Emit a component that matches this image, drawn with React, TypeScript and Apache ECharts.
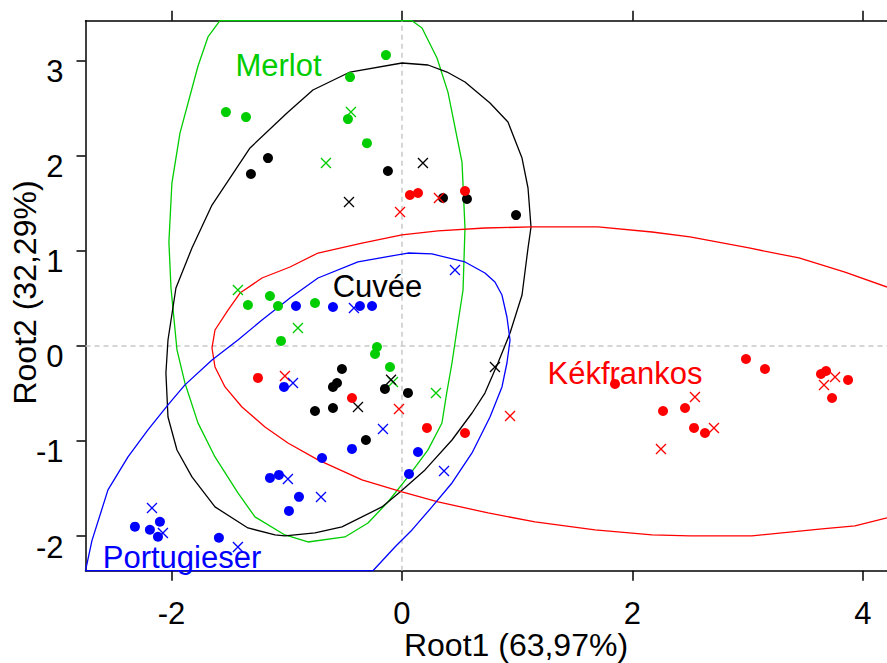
import React, { useEffect, useRef } from "react";
import * as echarts from "echarts";

// Axis ranges and ticks
const X_MIN = -2.747;
const X_MAX = 4.21;
const Y_MIN = -2.365;
const Y_MAX = 3.421;
const X_TICKS = [-2, 0, 2, 4];
const Y_TICKS = [-2, -1, 0, 1, 2, 3];

const X_TITLE = "Root1 (63,97%)";
const Y_TITLE = "Root2 (32,29%)";

// Group names
const GROUPS = ["Merlot", "Cuvée", "Kékfrankos", "Portugieser"];

// Merlot
const merlotDots = [
  [-1.528, 2.46], [-1.354, 2.407], [-0.451, 2.828], [-0.139, 3.059], [-0.469, 2.386],
  [-0.304, 2.133], [-1.337, 0.43], [-1.146, 0.525], [-1.076, 0.42], [-0.755, 0.451],
  [-1.05, 0.052], [-0.217, -0.012], [-0.234, -0.085], [-0.104, -0.222],
];
const merlotCrosses = [
  [-0.443, 2.461], [-0.66, 1.924], [-1.424, 0.588], [-0.903, 0.188], [-0.078, -0.38], [0.295, -0.496],
];
// Cuvée
const cuveeDots = [
  [-1.163, 1.976], [-1.311, 1.808], [-0.122, 1.84], [0.356, 1.556], [0.564, 1.545], [0.99, 1.376],
  [-0.521, -0.243], [-0.564, -0.39], [-0.599, -0.432], [-0.755, -0.685], [-0.599, -0.653],
  [-0.148, -0.453], [0.052, -0.495], [-0.313, -0.99],
];
const cuveeCrosses = [
  [0.182, 1.924], [-0.46, 1.513], [-0.095, -0.357], [-0.382, -0.642], [0.807, -0.222],
];
// Kékfrankos
const kekDots = [
  [0.069, 1.587], [0.139, 1.608], [0.547, 1.629], [-1.25, -0.337], [-0.434, -0.548],
  [0.217, -0.863], [0.547, -0.916], [1.849, -0.4], [2.266, -0.685], [2.457, -0.653],
  [2.535, -0.863], [2.63, -0.916], [2.986, -0.138], [3.151, -0.243], [3.637, -0.296],
  [3.681, -0.264], [3.872, -0.358], [3.733, -0.548],
];
const kekCrosses = [
  [-0.017, 1.409], [0.321, 1.556], [-1.016, -0.316], [-0.026, -0.664], [0.938, -0.737],
  [2.248, -1.085], [2.543, -0.537], [2.708, -0.863], [3.759, -0.327], [3.663, -0.411],
];
// Portugieser
const portDots = [
  [-0.92, 0.42], [-0.599, 0.409], [-0.365, 0.42], [-0.26, 0.42], [-1.024, -0.432],
  [-1.146, -1.389], [-1.068, -1.357], [-0.894, -1.588], [-0.981, -1.736], [-0.694, -1.179],
  [-0.434, -1.084], [0.139, -1.116], [0.061, -1.347], [-2.101, -1.85], [-2.318, -1.902],
  [-2.188, -1.934], [-2.118, -2.008], [-1.589, -2.018],
];
const portCrosses = [
  [-0.417, 0.399], [-0.946, -0.39], [-0.165, -0.874], [0.46, 0.798], [0.365, -1.316],
  [-0.99, -1.4], [-0.703, -1.589], [-2.17, -1.705], [-2.075, -1.968], [-1.424, -2.115],
];

// Confidence ellipse outlines (clipped to the frame)
const merlotEllipse = [
  [-1.58, 3.421], [-1.684, 3.25], [-1.771, 2.942], [-1.927, 2.239], [-1.997, 1.713],
  [-2.023, 1.093], [-2.005, 0.609], [-1.953, -0.041], [-1.884, -0.39], [-1.771, -0.81],
  [-1.623, -1.168], [-1.424, -1.547], [-1.276, -1.799], [-1.016, -1.989], [-0.816, -2.063],
  [-0.495, -2.01], [-0.295, -1.863], [-0.122, -1.642], [0.052, -1.378], [0.226, -1.094],
  [0.347, -0.811], [0.388, -0.497], [0.434, -0.18], [0.486, 0.241], [0.53, 0.588],
  [0.547, 1.24], [0.521, 1.934], [0.399, 2.67], [0.304, 3.028], [0.174, 3.344],
  [0.087, 3.421], [-1.58, 3.421],
];
const cuveeEllipse = [
  [0, 2.976], [0.226, 2.955], [0.391, 2.881], [0.547, 2.776], [0.764, 2.555], [0.92, 2.355],
  [1.042, 1.976], [1.094, 1.661], [1.12, 1.25], [1.094, 1.029], [1.042, 0.535], [0.938, 0.135],
  [0.833, -0.18], [0.72, -0.496], [0.608, -0.706], [0.434, -0.99], [0.2, -1.305],
  [-0.017, -1.536], [-0.174, -1.694], [-0.521, -1.904], [-0.755, -1.967], [-1.016, -1.999],
  [-1.102, -1.988], [-1.337, -1.915], [-1.623, -1.694], [-1.823, -1.378], [-1.953, -1.095],
  [-2.031, -0.748], [-2.049, -0.285], [-2.031, 0.062], [-1.962, 0.609], [-1.823, 1.03],
  [-1.649, 1.482], [-1.319, 2.082], [-0.998, 2.45], [-0.773, 2.692], [-0.451, 2.881], [0, 2.976],
];
const kekEllipse = [
  [4.21, 0.619], [3.845, 0.777], [3.446, 0.925], [3.012, 1.03], [2.5, 1.146], [2.17, 1.198],
  [1.701, 1.251], [1.128, 1.251], [0.72, 1.24], [0.313, 1.209], [0, 1.167], [-0.347, 1.082],
  [-0.729, 0.977], [-0.972, 0.83], [-1.215, 0.714], [-1.406, 0.556], [-1.51, 0.377],
  [-1.623, 0.167], [-1.649, -0.022], [-1.623, -0.222], [-1.536, -0.432], [-1.389, -0.643],
  [-1.189, -0.853], [-0.99, -1.021], [-0.729, -1.199], [-0.347, -1.409], [0, -1.536],
  [0.313, -1.641], [0.747, -1.757], [1.155, -1.852], [1.675, -1.936], [2.17, -1.988],
  [2.5, -1.999], [3.038, -1.999], [3.646, -1.926], [3.932, -1.894], [4.21, -1.81],
];
const portEllipse = [
  [-2.747, -2.365], [-2.691, -2.049], [-2.552, -1.515], [-2.378, -1.168], [-2.205, -0.884],
  [-2.031, -0.621], [-1.884, -0.41], [-1.649, -0.148], [-1.424, 0.062], [-1.215, 0.272],
  [-0.972, 0.504], [-0.729, 0.714], [-0.382, 0.883], [0.052, 0.977], [0.26, 0.967],
  [0.547, 0.883], [0.72, 0.767], [0.807, 0.672], [0.868, 0.535], [0.911, 0.304],
  [0.938, 0.062], [0.911, -0.18], [0.868, -0.432], [0.764, -0.748], [0.608, -1.126],
  [0.434, -1.442], [0.26, -1.694], [0.087, -1.936], [-0.061, -2.115], [-0.252, -2.365],
  [-2.747, -2.365],
];

const GREEN = "#00CD00";
const BLACK = "#000000";
const RED = "#FF0000";
const BLUE = "#0000FF";
const FONT = "'Liberation Sans', Arial, sans-serif";

const CROSS = "path://M0,0L10,10M10,0L0,10";

export default function App() {
  const ref = useRef<HTMLDivElement>(null);

  useEffect(() => {
    if (!ref.current) return;
    const chart = echarts.init(ref.current, null, { renderer: "svg" });

    const groups = [
      { name: GROUPS[0], color: GREEN, dots: merlotDots, crosses: merlotCrosses, ell: merlotEllipse },
      { name: GROUPS[1], color: BLACK, dots: cuveeDots, crosses: cuveeCrosses, ell: cuveeEllipse },
      { name: GROUPS[2], color: RED, dots: kekDots, crosses: kekCrosses, ell: kekEllipse },
      { name: GROUPS[3], color: BLUE, dots: portDots, crosses: portCrosses, ell: portEllipse },
    ];

    const series: any[] = [
      {
        type: "line",
        data: [[0, Y_MIN], [0, Y_MAX]],
        showSymbol: false,
        silent: true,
        lineStyle: { color: "#c8c8c8", width: 1.5, type: [5, 4] },
        z: 1,
      },
      {
        type: "line",
        data: [[X_MIN, 0], [X_MAX, 0]],
        showSymbol: false,
        silent: true,
        lineStyle: { color: "#c8c8c8", width: 1.5, type: [5, 4] },
        z: 1,
      },
    ];

    groups.forEach((g) => {
      series.push({
        type: "line",
        name: g.name + " ellipse",
        data: g.ell,
        showSymbol: false,
        clip: false,
        silent: true,
        lineStyle: { color: g.color, width: 1.3 },
        z: 2,
      });
    });
    groups.forEach((g) => {
      series.push({
        type: "scatter",
        name: g.name,
        data: g.dots,
        symbol: "circle",
        symbolSize: 10,
        silent: true,
        itemStyle: { color: g.color, opacity: 1 },
        z: 3,
      });
      series.push({
        type: "scatter",
        name: g.name + " x",
        data: g.crosses,
        symbol: CROSS,
        symbolSize: 10,
        silent: true,
        itemStyle: { color: "rgba(0,0,0,0)", borderColor: g.color, borderWidth: 1.3, opacity: 1 },
        z: 3,
      });
    });

    const axisLineStyle = { color: "#000", width: 1.5 };

    const option: any = {
      animation: false,
      backgroundColor: "#fff",
      grid: {
        left: 85.5,
        top: 20.7,
        right: 0,
        bottom: 92.3,
        containLabel: false,
        outerBoundsMode: "none",
      },
      xAxis: [
        {
          type: "value",
          position: "bottom",
          min: X_MIN,
          max: X_MAX,
          axisLine: { show: true, onZero: false, lineStyle: axisLineStyle },
          axisTick: { show: true, customValues: X_TICKS, length: 10, lineStyle: axisLineStyle },
          axisLabel: {
            customValues: X_TICKS,
            fontSize: 31,
            fontFamily: FONT,
            color: "#000",
            margin: 27,
          },
          splitLine: { show: false },
        },
        {
          type: "value",
          position: "top",
          min: X_MIN,
          max: X_MAX,
          axisLine: { show: true, onZero: false, lineStyle: axisLineStyle },
          axisTick: { show: true, customValues: X_TICKS, length: 10, lineStyle: axisLineStyle },
          axisLabel: { show: false },
          splitLine: { show: false },
        },
      ],
      yAxis: {
        type: "value",
        position: "left",
        min: Y_MIN,
        max: Y_MAX,
        axisLine: { show: true, onZero: false, lineStyle: axisLineStyle },
        axisTick: { show: true, customValues: Y_TICKS, length: 9, lineStyle: axisLineStyle },
        axisLabel: {
          customValues: Y_TICKS,
          fontSize: 31,
          fontFamily: FONT,
          color: "#000",
          margin: 22,
          verticalAlign: "top",
          lineHeight: 22,
        },
        splitLine: { show: false },
      },
      series,
      graphic: [
        {
          type: "text", x: 278.5, y: 65, z: 10,
          style: { text: GROUPS[0], fill: GREEN, fontSize: 31, fontFamily: FONT, textAlign: "center", textVerticalAlign: "middle" },
        },
        {
          type: "text", x: 377.5, y: 286, z: 10,
          style: { text: GROUPS[1], fill: BLACK, fontSize: 31, fontFamily: FONT, textAlign: "center", textVerticalAlign: "middle" },
        },
        {
          type: "text", x: 625, y: 373, z: 10,
          style: { text: GROUPS[2], fill: RED, fontSize: 31, fontFamily: FONT, textAlign: "center", textVerticalAlign: "middle" },
        },
        {
          type: "text", x: 182, y: 557, z: 10,
          style: { text: GROUPS[3], fill: BLUE, fontSize: 31, fontFamily: FONT, textAlign: "center", textVerticalAlign: "middle" },
        },
        {
          type: "text", x: 516, y: 645, z: 10,
          style: { text: X_TITLE, fill: "#000", fontSize: 32, fontFamily: FONT, textAlign: "center", textVerticalAlign: "middle" },
        },
        {
          type: "text", x: 24.5, y: 292.5, rotation: Math.PI / 2, z: 10,
          style: { text: Y_TITLE, fill: "#000", fontSize: 32, fontFamily: FONT, textAlign: "center", textVerticalAlign: "middle" },
        },
      ],
    };

    chart.setOption(option);
    return () => chart.dispose();
  }, []);

  return (
    <div
      ref={ref}
      style={{ position: "fixed", left: 0, top: 0, width: 887, height: 663, background: "#fff" }}
    />
  );
}
